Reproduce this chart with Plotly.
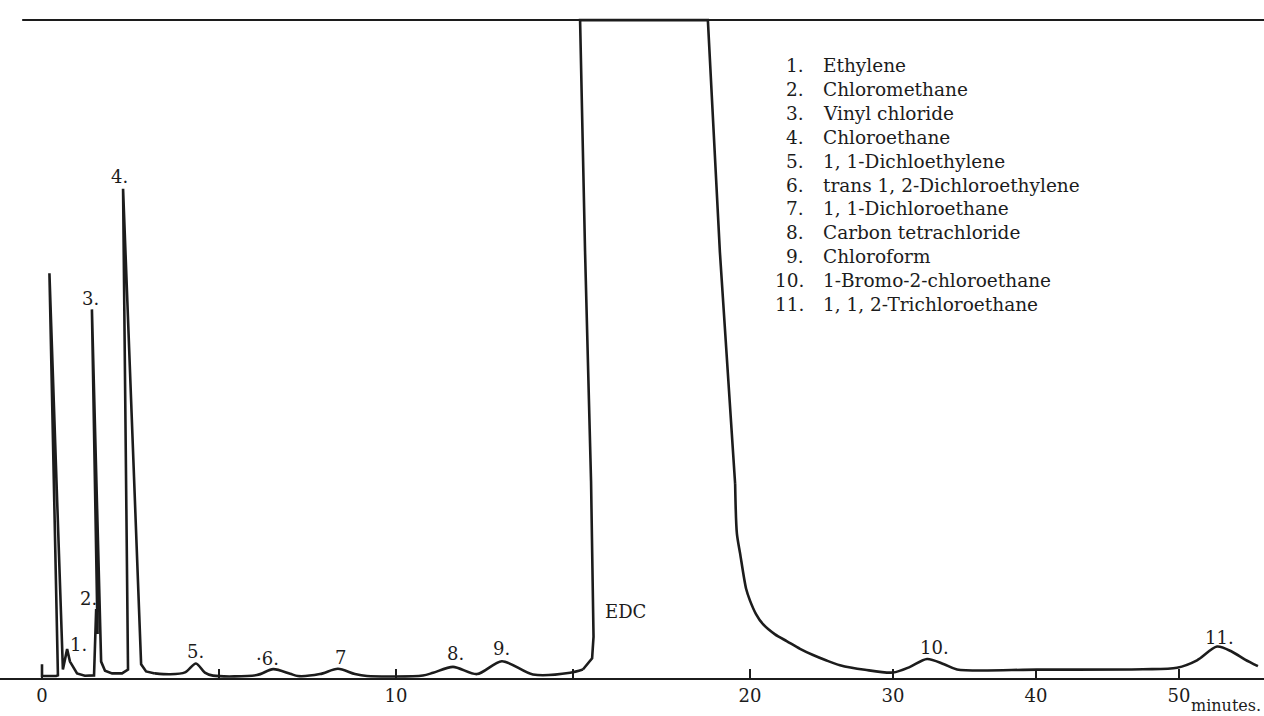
import plotly.graph_objects as go

# ---------------- data ----------------
# retention time (minutes) and detector signal (% of full scale)
time_min = [0.00, 0.00, 0.40, 0.45, 0.21, 0.59, 0.71, 0.79, 0.99, 1.21,
            1.47, 1.53, 1.57, 1.41, 1.67, 1.78, 1.98, 2.26, 2.43, 2.29,
            2.80, 2.94, 3.19, 3.62, 4.04, 4.35, 4.60, 4.83, 6.07, 6.53,
            7.01, 7.23, 7.85, 8.36, 8.84, 9.18, 10.76, 11.05, 11.61, 12.29,
            12.99, 13.87, 14.92, 15.28, 15.54, 15.58, 15.51, 15.34, 15.20, 18.81,
            19.15, 19.58, 19.63, 19.72, 19.89, 20.00, 20.42, 20.91, 21.75, 22.59,
            23.50, 24.41, 25.31, 26.29, 28.04, 30.00, 31.19, 32.38, 33.57, 34.48,
            40.07, 47.48, 49.86, 51.26, 52.66, 53.71, 54.62, 55.52]
signal_pct = [1.8, 0.0, 0.0, 0.1, 61.4, 1.0, 4.1, 2.2, 0.4, 0.05,
              0.1, 10.2, 6.4, 55.9, 2.2, 0.8, 0.4, 0.4, 1.0, 74.3,
              1.8, 0.7, 0.4, 0.27, 0.56, 1.92, 0.53, 0.06, 0.15, 1.05,
              0.35, 0.0, 0.3, 1.1, 0.3, 0.0, 0.08, 0.5, 1.4, 0.3,
              2.26, 0.23, 0.5, 1.0, 2.7, 6.0, 29.7, 64.8, 100.0, 100.0,
              64.6, 29.3, 21.7, 18.7, 13.3, 11.5, 9.45, 7.9, 6.35, 5.3,
              4.15, 3.2, 2.4, 1.65, 0.95, 0.53, 1.4, 2.6, 1.8, 1.0,
              0.98, 1.04, 1.27, 2.4, 4.5, 3.7, 2.5, 1.5]

# how the recorder pen segments are drawn: (first time, last time, shape)
segments = [(0.00, 3.19, "linear"), (3.19, 15.28, "spline"),
            (15.28, 19.58, "linear"), (19.58, 55.52, "spline")]

# peak labels
label_text = ["1.", "2.", "3.", "4.", "5.", "·6.", "7", "8.", "9.", "EDC", "10.", "11."]
label_time = [1.02, 1.30, 1.36, 2.20, 4.35, 6.38, 8.42, 11.69, 12.99, 15.85, 32.87, 52.80]
label_height = [4.8, 11.8, 57.6, 76.2, 3.8, 2.7, 2.9, 3.4, 4.2, 9.9, 4.3, 5.8]

# compound key
compound_no = ["1.", "2.", "3.", "4.", "5.", "6.", "7.", "8.", "9.", "10.", "11."]
compound_name = ["Ethylene", "Chloromethane", "Vinyl chloride", "Chloroethane",
                 "1, 1-Dichloethylene", "trans 1, 2-Dichloroethylene",
                 "1, 1-Dichloroethane", "Carbon tetrachloride", "Chloroform",
                 "1-Bromo-2-chloroethane", "1, 1, 2-Trichloroethane"]

# time axis ticks
tick_minutes = [0, 5, 10, 15, 20, 30, 40, 50]
tick_text = ["0", "", "10", "", "20", "30", "40", "50"]

FULL_SCALE = 100.0
SPEED_CHANGE_AT = 20.0          # chart speed reduced after 20 min
SPEED_RATIO = 14.3 / 35.4       # slow / fast paper speed


def chart_pos(t):
    """Position along the recorder paper (in fast-speed minutes)."""
    return t if t <= SPEED_CHANGE_AT else SPEED_CHANGE_AT + (t - SPEED_CHANGE_AT) * SPEED_RATIO


FONT = "DejaVu Serif"
INK = "#1c1c1c"

W, H = 1264, 716
M_T, M_B = 7, 38
PLOT_H = H - M_T - M_B

fig = go.Figure()

# split the pen trace into segments by point order
idx = 0
n = len(time_min)
for seg_start, seg_end, shape in segments:
    i0 = idx
    while i0 < n and abs(time_min[i0] - seg_start) > 1e-9:
        i0 += 1
    i1 = i0 + 1
    while i1 < n and abs(time_min[i1] - seg_end) > 1e-9:
        i1 += 1
    xs = [chart_pos(t) for t in time_min[i0:i1 + 1]]
    ys = signal_pct[i0:i1 + 1]
    fig.add_trace(go.Scatter(
        x=xs, y=ys, mode="lines",
        line=dict(color=INK, width=2.6, shape=shape, smoothing=0.8),
        hoverinfo="skip", showlegend=False))
    idx = i1

x_min = -42 / 35.4
x_max = (W - 42) / 35.4

# recorder full-scale line
fig.add_shape(type="line", xref="x", yref="y", x0=-0.56, x1=x_max,
              y0=FULL_SCALE, y1=FULL_SCALE, line=dict(color=INK, width=2))

for txt, t, h in zip(label_text, label_time, label_height):
    fig.add_annotation(x=chart_pos(t), y=h, text=txt, showarrow=False,
                       xanchor="left" if txt == "EDC" else "center", yanchor="middle",
                       font=dict(family=FONT, size=18, color=INK))


def py(px):
    return (H - M_B - px) / PLOT_H


for i, (no, name) in enumerate(zip(compound_no, compound_name)):
    ypx = 66 + 23.8 * i
    fig.add_annotation(xref="paper", yref="paper", x=806 / W, y=py(ypx), text=no,
                       showarrow=False, xanchor="right", yanchor="middle",
                       font=dict(family=FONT, size=18.5, color=INK))
    fig.add_annotation(xref="paper", yref="paper", x=821 / W, y=py(ypx), text=name,
                       showarrow=False, xanchor="left", yanchor="middle",
                       font=dict(family=FONT, size=18.5, color=INK))

fig.add_annotation(xref="paper", yref="paper", x=1263 / W, y=py(705.5), text="minutes.",
                   showarrow=False, xanchor="right", yanchor="middle",
                   font=dict(family=FONT, size=16, color=INK))

fig.update_layout(
    width=W, height=H,
    margin=dict(l=0, r=0, t=M_T, b=M_B),
    paper_bgcolor="white", plot_bgcolor="white",
    xaxis=dict(range=[x_min, x_max], showgrid=False, zeroline=False,
               showline=True, linecolor=INK, linewidth=2,
               ticks="inside", ticklen=9, tickwidth=1.5, tickcolor=INK,
               tickvals=[chart_pos(t) for t in tick_minutes], ticktext=tick_text,
               tickfont=dict(family=FONT, size=18, color=INK)),
    yaxis=dict(range=[-0.3, 102], showgrid=False, zeroline=False,
               showline=False, showticklabels=False, ticks=""),
)

fig.write_html("out.html")
